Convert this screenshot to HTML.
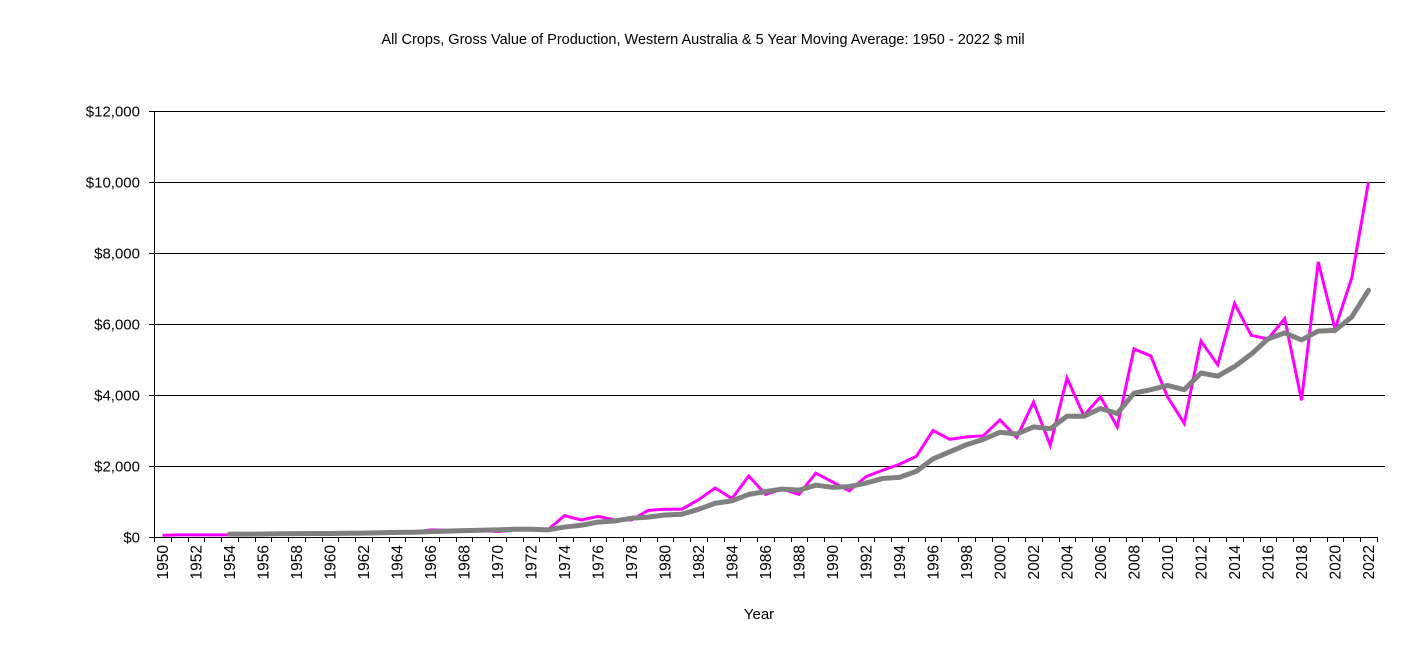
<!DOCTYPE html>
<html><head><meta charset="utf-8"><style>
html,body{margin:0;padding:0;background:#fff;}
svg{display:block;font-family:"Liberation Sans",Arial,sans-serif;}
</style></head><body>
<svg id="c" width="1406" height="666" viewBox="0 0 1406 666" xmlns="http://www.w3.org/2000/svg">
<text x="703" y="44" font-size="14.5" text-anchor="middle">All Crops, Gross Value of Production, Western Australia &amp; 5 Year Moving Average: 1950 - 2022 $ mil</text>
<text x="759" y="619" font-size="15" text-anchor="middle">Year</text>
</svg>
<script>
const s=document.getElementById('c');
const NS='http://www.w3.org/2000/svg';
function el(t,a,txt){const e=document.createElementNS(NS,t);for(const k in a)e.setAttribute(k,a[k]);if(txt!=null)e.textContent=txt;s.appendChild(e);return e;}
const x0=162.5,dx=16.75,y0=537,k=0.0355;
const X=i=>x0+i*dx,Y=v=>y0-v*k;
const labs=['$0','$2,000','$4,000','$6,000','$8,000','$10,000','$12,000'];
for(let j=0;j<=6;j++){const y=Math.round(Y(j*2000))+0.5;
 if(j>0)el('line',{x1:154,x2:1385,y1:y,y2:y,stroke:'#000','stroke-width':1});
 el('line',{x1:149,x2:154,y1:y,y2:y,stroke:'#000'});
 el('text',{x:140,y:y+5,'font-size':15,'text-anchor':'end'},labs[j]);}
el('line',{x1:154.5,x2:154.5,y1:112,y2:537,stroke:'#000'});
el('line',{x1:154,x2:1377,y1:537.5,y2:537.5,stroke:'#000'});
for(let i=0;i<=73;i++){const x=Math.round(154+i*dx)+0.5;el('line',{x1:x,x2:x,y1:537,y2:542,stroke:'#000'});}
for(let i=0;i<=72;i+=2){const x=X(i)+5.5;el('text',{x:x,y:545,'font-size':15.5,'text-anchor':'end',transform:`rotate(-90 ${x} 545)`},1950+i);}
const m=[50,60,60,60,60,70,70,70,80,80,90,100,100,110,120,130,200,190,190,190,150,200,200,200,600,480,580,480,480,750,780,780,1050,1380,1080,1720,1200,1350,1200,1800,1550,1300,1700,1880,2050,2270,3000,2750,2820,2850,3300,2800,3800,2580,4480,3420,3950,3100,5300,5100,3950,3200,5520,4850,6580,5680,5580,6150,3850,7750,5860,7300,10000];
const a=[80,80,85,90,95,100,100,105,110,120,130,135,150,165,180,190,200,220,220,
200,280,330,420,450,530,560,620,640,780,950,1020,1200,1280,1350,1320,1460,1400,1420,1520,1650,1680,1850,2200,2400,2600,2750,2950,2900,3100,3050,3400,3400,3620,3480,4050,4150,4270,4150,4620,4530,4800,5150,5580,5750,5550,5800,5820,6200,6950];
el('polyline',{points:m.map((v,i)=>X(i)+','+Y(v)).join(' '),fill:'none',stroke:'#ff00ff','stroke-width':3,'stroke-linejoin':'miter'});
el('polyline',{points:a.map((v,i)=>X(i+4)+','+Y(v)).join(' '),fill:'none',stroke:'#808080','stroke-width':5,'stroke-linejoin':'round','stroke-linecap':'round'});
</script>
</body></html>
